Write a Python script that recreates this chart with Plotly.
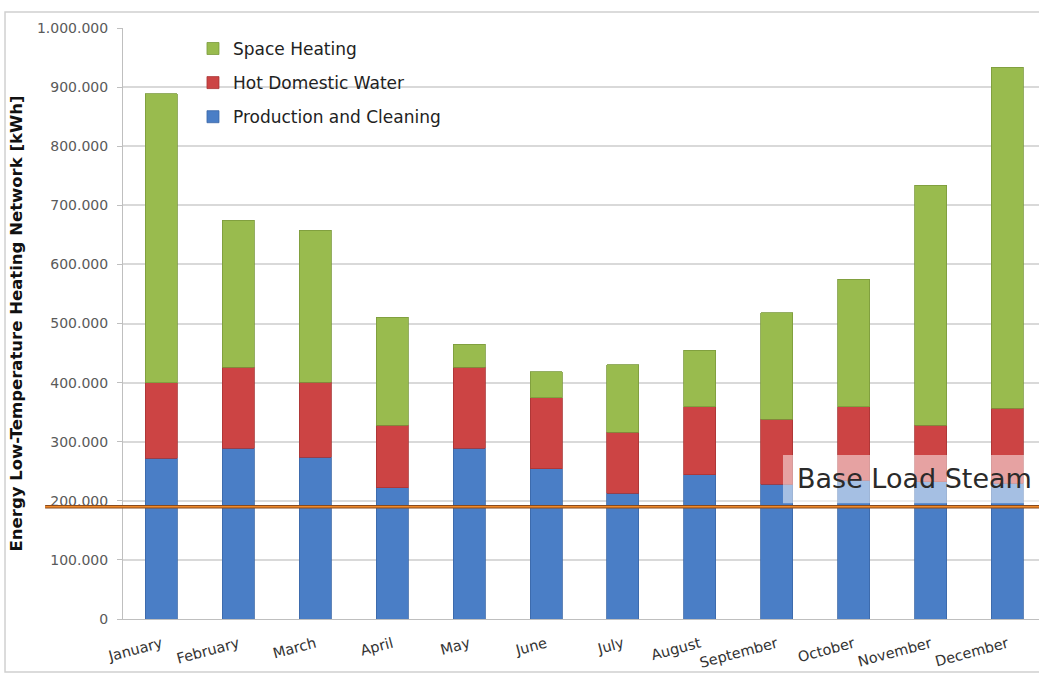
import plotly.graph_objects as go

# Monthly energy demand of the low-temperature heating network [kWh]
months = ["January", "February", "March", "April", "May", "June",
          "July", "August", "September", "October", "November", "December"]
production_cleaning = [272000, 289000, 274000, 222000, 289000, 254000,
                       213000, 244000, 228000, 235000, 232000, 230000]
hot_water_top = [400000, 426000, 401000, 328000, 426000, 374000,
                 316000, 359000, 338000, 359000, 328000, 357000]
total_top = [889000, 675000, 658000, 511000, 465000, 418000,
             430000, 455000, 518000, 575000, 734000, 934000]
base_load_steam = 190000

y_ticks = [0, 100000, 200000, 300000, 400000, 500000,
           600000, 700000, 800000, 900000, 1000000]
y_tick_text = ["0", "100.000", "200.000", "300.000", "400.000", "500.000",
               "600.000", "700.000", "800.000", "900.000", "1.000.000"]

# segment heights of the stacked bars
hot_water = [h - p for h, p in zip(hot_water_top, production_cleaning)]
space_heating = [t - h for t, h in zip(total_top, hot_water_top)]

FONT = "DejaVu Sans"

fig = go.Figure()
series = [
    ("Production and Cleaning", production_cleaning, "#4a7ec6", "#3a66a6", 3),
    ("Hot Domestic Water", hot_water, "#cc4444", "#a83434", 2),
    ("Space Heating", space_heating, "#99bb4e", "#7a9a3c", 1),
]
for name, vals, col, edge, rank in series:
    fig.add_trace(go.Bar(
        x=months, y=vals, name=name, legendgroup=name, legendrank=rank,
        marker=dict(color=col, line=dict(color=edge, width=0.8)),
    ))

# base load steam line
fig.add_shape(type="line", xref="paper", yref="y",
              x0=-0.085, x1=1.0, y0=base_load_steam, y1=base_load_steam,
              line=dict(color="#8a4a1c", width=3.5), layer="above")
fig.add_shape(type="line", xref="paper", yref="y",
              x0=-0.085, x1=1.0, y0=base_load_steam, y1=base_load_steam,
              line=dict(color="#f08a2a", width=1.5), layer="above")

# translucent label box
fig.add_shape(type="rect", xref="paper", yref="paper",
              x0=0.7205, x1=1.0, y0=0.196, y1=0.2775,
              fillcolor="rgba(255,255,255,0.5)", line=dict(width=0), layer="above")
fig.add_annotation(text="Base Load Steam", xref="paper", yref="paper",
                   x=0.7336, y=0.2369, xanchor="left", yanchor="middle",
                   showarrow=False, font=dict(family=FONT, size=27, color="#2a2a2a"))

# outer frame
fig.add_shape(type="rect", xref="paper", yref="paper",
              x0=-0.1288, x1=1.01, y0=-0.0897, y1=1.027,
              line=dict(color="#d0d0d0", width=1.5), layer="below")

fig.update_layout(
    width=1039, height=678,
    margin=dict(l=123, r=0, t=28, b=59),
    paper_bgcolor="white", plot_bgcolor="white",
    barmode="stack", bargap=0.584,
    font=dict(family=FONT, color="#333333"),
    legend=dict(
        x=0.0764, y=0.995, xanchor="left", yanchor="top",
        traceorder="grouped", tracegroupgap=9,
        font=dict(family=FONT, size=17, color="#222222"),
        bgcolor="rgba(0,0,0,0)",
    ),
    xaxis=dict(
        range=[-0.5, 11.41], tickangle=-15,
        tickfont=dict(family=FONT, size=14.5, color="#333333"),
        showline=True, linecolor="#bfbfbf", linewidth=1,
        ticks="", showgrid=False, ticklabelstandoff=10,
    ),
    yaxis=dict(
        range=[0, 1000000], tickvals=y_ticks, ticktext=y_tick_text,
        tickfont=dict(family=FONT, size=14, color="#5a5a5a"),
        showline=True, linecolor="#bfbfbf", linewidth=1,
        ticks="outside", ticklen=5, tickcolor="#bfbfbf",
        ticklabelstandoff=6,
        showgrid=True, gridcolor="#d9d9d9", gridwidth=1.5,
        zeroline=False,
        title=dict(text="<b>Energy Low-Temperature Heating Network [kWh]</b>",
                   font=dict(family=FONT, size=16.5, color="#111111"),
                   standoff=10),
    ),
)

fig.write_html("out.html")
